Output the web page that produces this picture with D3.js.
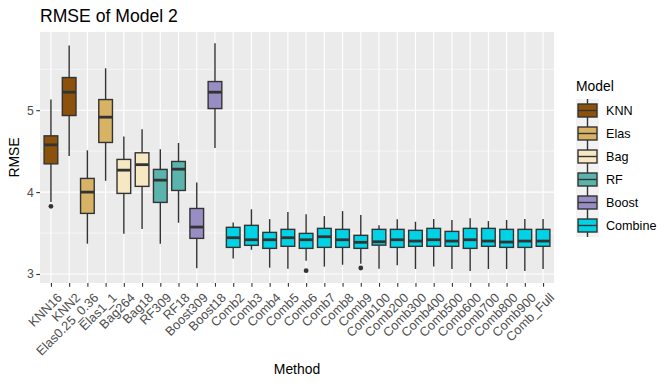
<!DOCTYPE html>
<html>
<head>
<meta charset="utf-8">
<script src="https://cdn.jsdelivr.net/npm/d3@7"></script>
<style>
  body { margin:0; background:#fff; }
  text { font-family: "Liberation Sans", Arial, sans-serif; }
</style>
</head>
<body>
<script>
// methods on the x axis and the model group of each
var methods = ["KNN16","KNN2","Elas0.25_0.36","Elas1_1","Bag264","Bag18","RF309","RF18","Boost309","Boost18",
  "Comb2","Comb3","Comb4","Comb5","Comb6","Comb7","Comb8","Comb9",
  "Comb100","Comb200","Comb300","Comb400","Comb500","Comb600","Comb700","Comb800","Comb900","Comb_Full"];
var groups = ["KNN","KNN","Elas","Elas","Bag","Bag","RF","RF","Boost","Boost",
  "Combine","Combine","Combine","Combine","Combine","Combine","Combine","Combine",
  "Combine","Combine","Combine","Combine","Combine","Combine","Combine","Combine","Combine","Combine"];
var models = ["KNN","Elas","Bag","RF","Boost","Combine"];
var modelColors = ["#8C510A","#D8B365","#F6E8C3","#5AB4AC","#998EC3","#00D3E5"];

// box statistics
var whiskLow = [3.88,4.44,3.37,4.138,3.49,3.549,3.37,3.626,3.07,4.537,
  3.19,3.296,3.077,3.065,3.162,3.09,3.113,3.126,
  3.065,3.106,3.061,3.09,3.06,3.037,3.06,3.06,3.037,3.06];
var q1 = [4.345,4.935,3.74,4.606,3.984,4.07,3.874,4.02,3.435,5.02,
  3.325,3.35,3.313,3.338,3.313,3.325,3.325,3.313,
  3.352,3.325,3.338,3.338,3.338,3.313,3.338,3.325,3.325,3.338];
var medians = [4.577,5.22,4.0,4.915,4.268,4.335,4.146,4.28,3.573,5.22,
  3.443,3.418,3.418,3.443,3.418,3.455,3.418,3.387,
  3.394,3.418,3.402,3.418,3.402,3.418,3.402,3.39,3.402,3.402];
var q3 = [4.687,5.399,4.167,5.13,4.399,4.48,4.277,4.374,3.80,5.35,
  3.57,3.594,3.508,3.545,3.496,3.557,3.545,3.472,
  3.545,3.545,3.533,3.557,3.52,3.557,3.557,3.545,3.545,3.545];
var whiskHigh = [5.13,5.789,4.51,5.512,4.68,4.768,4.524,4.6,4.118,5.817,
  3.63,3.79,3.67,3.756,3.73,3.707,3.768,3.72,
  3.596,3.667,3.638,3.67,3.66,3.68,3.646,3.66,3.67,3.67];
var outlierMethods = ["KNN16","Comb6","Comb9"];
var outlierValues = [3.826,3.04,3.073];
var yTicks = [3,4,5];

var svgWidth = 666, svgHeight = 384;
var margin = {top:32, right:112, bottom:101, left:40};
var width = svgWidth - margin.left - margin.right;
var height = svgHeight - margin.top - margin.bottom;

var svg = d3.select("body")
    .append("svg")
    .attr("width", svgWidth)
    .attr("height", svgHeight);

var g = svg.append("g")
    .attr("transform","translate("+margin.left+","+margin.top+")");

var x = d3.scalePoint()
    .domain(methods)
    .range([0,width])
    .padding(0.6);
var y = d3.scaleLinear()
    .domain([2.89,5.955])
    .range([height,0]);
var color = d3.scaleOrdinal().domain(models).range(modelColors);
var boxW = x.step()*0.75;

// panel
g.append("rect")
  .attr("width", width)
  .attr("height", height)
  .attr("fill","#EBEBEB");

// minor grid
g.selectAll(".minor")
  .data([3.5,4.5,5.5])
  .enter()
  .append("line")
  .attr("x1",0).attr("x2",width)
  .attr("y1",function(d){ return y(d); })
  .attr("y2",function(d){ return y(d); })
  .attr("stroke","#fff").attr("stroke-width",0.55);

// major grid
g.selectAll(".hgrid")
  .data(yTicks)
  .enter()
  .append("line")
  .attr("x1",0).attr("x2",width)
  .attr("y1",function(d){ return y(d); })
  .attr("y2",function(d){ return y(d); })
  .attr("stroke","#fff").attr("stroke-width",1.1);
g.selectAll(".vgrid")
  .data(methods)
  .enter()
  .append("line")
  .attr("x1",function(d){ return x(d); })
  .attr("x2",function(d){ return x(d); })
  .attr("y1",0).attr("y2",height)
  .attr("stroke","#fff").attr("stroke-width",1.1);

// boxes
var boxes = g.selectAll(".box")
  .data(methods)
  .enter()
  .append("g")
  .attr("class","box");

boxes.append("line")
  .attr("x1",function(d){ return x(d); })
  .attr("x2",function(d){ return x(d); })
  .attr("y1",function(d,i){ return y(whiskHigh[i]); })
  .attr("y2",function(d,i){ return y(q3[i]); })
  .attr("stroke","#333").attr("stroke-width",1.4);
boxes.append("line")
  .attr("x1",function(d){ return x(d); })
  .attr("x2",function(d){ return x(d); })
  .attr("y1",function(d,i){ return y(q1[i]); })
  .attr("y2",function(d,i){ return y(whiskLow[i]); })
  .attr("stroke","#333").attr("stroke-width",1.4);
boxes.append("rect")
  .attr("x",function(d){ return x(d)-boxW/2; })
  .attr("y",function(d,i){ return y(q3[i]); })
  .attr("width",boxW)
  .attr("height",function(d,i){ return y(q1[i])-y(q3[i]); })
  .attr("fill",function(d,i){ return color(groups[i]); })
  .attr("stroke","#333").attr("stroke-width",1.4);
boxes.append("line")
  .attr("x1",function(d){ return x(d)-boxW/2; })
  .attr("x2",function(d){ return x(d)+boxW/2; })
  .attr("y1",function(d,i){ return y(medians[i]); })
  .attr("y2",function(d,i){ return y(medians[i]); })
  .attr("stroke","#333").attr("stroke-width",2.8);

g.selectAll(".outlier")
  .data(outlierValues)
  .enter()
  .append("circle")
  .attr("cx",function(d,i){ return x(outlierMethods[i]); })
  .attr("cy",function(d){ return y(d); })
  .attr("r",2.4)
  .attr("fill","#333");

// axes
var yAxis = g.append("g")
  .call(d3.axisLeft(y).tickValues(yTicks).tickSize(3.7).tickPadding(2.5).tickFormat(d3.format("d")));
var xAxis = g.append("g")
  .attr("transform","translate(0,"+height+")")
  .call(d3.axisBottom(x).tickSize(3.7).tickPadding(2.5));
[yAxis, xAxis].forEach(function(a){
  a.select(".domain").remove();
  a.selectAll(".tick line").attr("stroke","#333").attr("stroke-width",1.1);
  a.selectAll(".tick text").attr("fill","#4D4D4D").attr("font-size","12.2px")
    .attr("font-family","Liberation Sans, Arial, sans-serif");
});
xAxis.selectAll(".tick text")
  .attr("text-anchor","end")
  .attr("font-size","12.8px")
  .attr("dy","0.71em")
  .attr("y",0)
  .attr("transform","translate(5,9) rotate(-45)");

// titles
svg.append("text")
  .attr("x",margin.left)
  .attr("y",22)
  .attr("font-size","17.6px")
  .attr("fill","#000")
  .text("RMSE of Model 2");
svg.append("text")
  .attr("transform","translate(19,"+(margin.top+height/2)+") rotate(-90)")
  .attr("text-anchor","middle")
  .attr("font-size","13.9px")
  .text("RMSE");
svg.append("text")
  .attr("x",margin.left+width/2)
  .attr("y",374)
  .attr("text-anchor","middle")
  .attr("font-size","13.9px")
  .text("Method");

// legend
var legend = svg.append("g").attr("transform","translate(576,99)");
legend.append("text")
  .attr("x",0).attr("y",-8)
  .attr("font-size","13.9px")
  .text("Model");
var keySize = 23;
var keys = legend.selectAll(".key")
  .data(models)
  .enter()
  .append("g")
  .attr("transform",function(d,i){ return "translate(0,"+(i*keySize)+")"; });
keys.append("rect")
  .attr("width",keySize).attr("height",keySize)
  .attr("fill","#F2F2F2");
keys.append("line")
  .attr("x1",keySize/2).attr("x2",keySize/2)
  .attr("y1",0).attr("y2",keySize)
  .attr("stroke","#333").attr("stroke-width",1.4);
keys.append("rect")
  .attr("x",2).attr("y",5)
  .attr("width",keySize-4).attr("height",keySize-10)
  .attr("fill",function(d){ return color(d); })
  .attr("stroke","#333").attr("stroke-width",1.4);
keys.append("line")
  .attr("x1",2).attr("x2",keySize-2)
  .attr("y1",keySize/2).attr("y2",keySize/2)
  .attr("stroke","#333").attr("stroke-width",1.4);
keys.append("text")
  .attr("x",keySize+7)
  .attr("y",keySize/2)
  .attr("dy","0.35em")
  .attr("font-size","12.6px")
  .text(function(d){ return d; });
</script>
</body>
</html>
